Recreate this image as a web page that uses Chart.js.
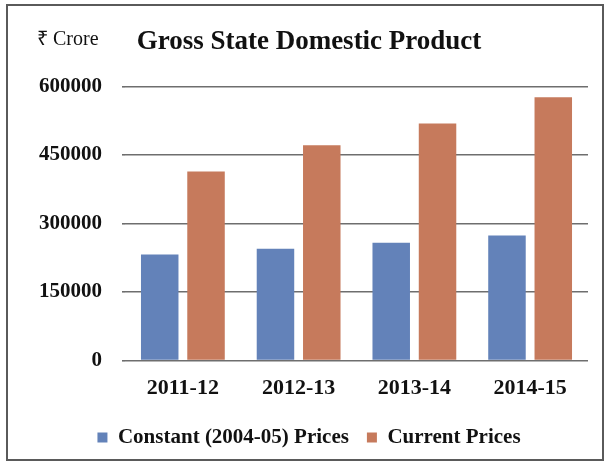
<!DOCTYPE html>
<html>
<head>
<meta charset="utf-8">
<script src="https://cdn.jsdelivr.net/npm/chart.js@4/dist/chart.umd.min.js"></script>
<style>
  html, body { margin: 0; padding: 0; background: #fff; }
  #frame {
    position: absolute; left: 6px; top: 4px;
    width: 594px; height: 453px;
    border: 2px solid #5a5a5a;
  }
</style>
</head>
<body>
<div id="frame"><canvas id="gsdp-chart" width="594" height="453"></canvas></div>
<script>
const years = ['2011-12', '2012-13', '2013-14', '2014-15'];
const constantPrices = [232000, 245000, 258000, 274000];
const currentPrices = [414000, 471000, 519000, 576000];
const yTicks = [0, 150000, 300000, 450000, 600000];

const serif = "'Liberation Serif', 'Times New Roman', serif";

// unit note in the top left corner
const unitLabel = {
  id: 'unitLabel',
  afterDraw(chart) {
    const ctx = chart.ctx;
    ctx.save();
    ctx.font = "20px " + serif;
    ctx.fillStyle = '#111';
    ctx.textBaseline = 'middle';
    ctx.textAlign = 'left';
    ctx.fillText('₹ Crore', 29, 34);
    ctx.restore();
  }
};

const config = {
  type: 'bar',
  data: {
    labels: years,
    datasets: [{
      label: 'Constant (2004-05) Prices',
      backgroundColor: 'rgb(99, 130, 185)',
      data: constantPrices,
      categoryPercentage: 0.8,
      barPercentage: 0.81
    }, {
      label: 'Current Prices',
      backgroundColor: 'rgb(198, 122, 92)',
      data: currentPrices,
      categoryPercentage: 0.8,
      barPercentage: 0.81
    }]
  },
  options: {
    responsive: false,
    animation: false,
    layout: {
      padding: { left: 22, right: 14, top: 12, bottom: 1 }
    },
    plugins: {
      title: {
        display: true,
        text: 'Gross State Domestic Product',
        color: '#111',
        font: { family: serif, size: 27, weight: 'bold' },
        padding: { top: 8, bottom: 28 }
      },
      legend: {
        position: 'bottom',
        labels: {
          boxWidth: 10,
          boxHeight: 10,
          color: '#111',
          padding: 18,
          font: { family: serif, size: 21, weight: 'bold' }
        }
      },
      tooltip: { enabled: false }
    },
    scales: {
      x: {
        grid: { display: false },
        border: { display: false },
        ticks: {
          color: '#111',
          padding: 7,
          font: { family: serif, size: 22, weight: 'bold' }
        }
      },
      y: {
        min: 0,
        max: 600000,
        afterFit(scale) { scale.width = 95; },
        afterBuildTicks(scale) {
          scale.ticks = yTicks.map(v => ({ value: v }));
        },
        grid: {
          color: 'rgb(110, 110, 110)',
          lineWidth: 1.6,
          tickLength: 3
        },
        border: { display: false },
        ticks: {
          color: '#111',
          padding: 20,
          font: { family: serif, size: 21, weight: 'bold' },
          callback: v => String(v)
        }
      }
    }
  },
  plugins: [unitLabel]
};

const gsdpChart = new Chart(
  document.getElementById('gsdp-chart'),
  config
);
</script>
</body>
</html>
